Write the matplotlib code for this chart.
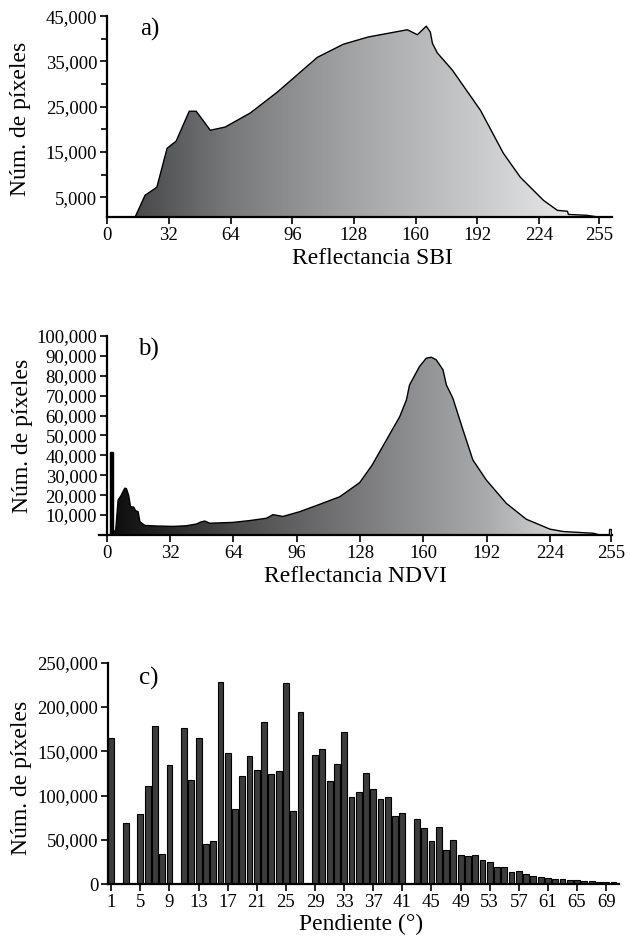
import numpy as np
import matplotlib
matplotlib.use("Agg")
import matplotlib.pyplot as plt
from matplotlib.colors import LinearSegmentedColormap

# a) SBI histogram (read off the picture)
sbi_x = [14.5, 19.7, 25.8, 31.1, 35.8, 42.6, 46.2, 53.5, 61.2, 74.2, 88.2, 109.0,
         122.5, 135.4, 155.7, 160.9, 165.5, 167.6, 168.7, 171.2, 179.0, 193.6,
         205.5, 214.3, 226.3, 233.5, 238.7, 239.2, 249.0, 254.8]
sbi_y = [600, 5440, 7210, 15800, 17400, 24000, 24000, 19800, 20500, 23600, 28200,
         35900, 38800, 40400, 42000, 40900, 42800, 41500, 39000, 36900, 33100, 24200,
         14700, 9400, 4300, 2100, 1900, 1200, 1000, 600]

# b) NDVI histogram
ndvi_x = [3.5, 4.5, 5.7, 7.0, 8.6, 9.1, 9.9, 11.0, 12.0, 13.6, 14.5, 15.8, 16.7,
          19.2, 25.0, 33.3, 40.0, 45.3, 47.5, 49.5, 52.0, 63.6, 72.0, 80.7, 84.0,
          89.0, 97.5, 107.6, 117.7, 127.8, 134.0, 139.4, 148.0, 151.4, 153.0, 158.0,
          161.4, 164.0, 166.5, 169.9, 171.6, 174.9, 180.0, 185.0, 191.8, 201.9,
          212.0, 224.0, 230.8, 246.0, 249.0]
ndvi_y = [1500, 2500, 17600, 19500, 22600, 23500, 23300, 20000, 14200, 14000, 12200,
          11700, 6700, 4800, 4500, 4300, 4600, 5500, 6500, 7000, 5900, 6300, 7200,
          8400, 10200, 9300, 11700, 15400, 19200, 26300, 35000, 44400, 59400, 67800,
          75400, 84600, 88800, 89300, 88000, 83000, 75400, 68700, 52800, 37700, 27600,
          15900, 7900, 2900, 1700, 850, 0]
ndvi_spike_x = [2.2, 254.2]
ndvi_spike_y = [41900, 2900]

# c) slope histogram
slope = list(range(1, 71))
slope_px = [165300, 0, 69100, 0, 78900, 110900, 178500, 33800, 134500, 0,
            175900, 117200, 164600, 45500, 48900, 227700, 147700, 84600, 122100, 145000,
            129300, 182600, 124800, 127800, 226600, 83100, 194300, 0, 145800, 152600,
            116100, 135700, 171700, 98100, 104100, 125500, 107500, 96600, 98100, 77000,
            80400, 0, 74000, 63900, 48900, 64600, 38700, 50000, 33400, 32300,
            32700, 27100, 25200, 19500, 19500, 13900, 15000, 11600, 9000, 8300,
            7100, 6400, 5600, 4900, 4900, 3800, 3800, 3000, 3000, 2600]

ref_ticks = [0, 32, 64, 96, 128, 160, 192, 224, 255]
slope_ticks = list(range(1, 70, 4))

plt.rcParams['font.family'] = ['Liberation Serif', 'DejaVu Serif']
TICK_FS = 13.5
LABEL_FS = 17


def style_axes(ax):
    for s in ['top', 'right']:
        ax.spines[s].set_visible(False)
    for s in ['left', 'bottom']:
        ax.spines[s].set_linewidth(1.6)
    ax.tick_params(which='both', direction='out', width=1.2, labelsize=TICK_FS, pad=2)
    ax.tick_params(which='major', length=5)
    ax.tick_params(which='minor', length=4)


def gradient_fill(ax, x, y, base, colors, x0, x1, top):
    cmap = LinearSegmentedColormap.from_list('g', colors)
    xs = np.concatenate([[x[0]], x, [x[-1]]])
    ys = np.concatenate([[base], y, [base]])
    poly = ax.fill(xs, ys, facecolor='none', edgecolor='none')[0]
    grad = np.linspace(0, 1, 256).reshape(1, -1)
    im = ax.imshow(grad, cmap=cmap, extent=[x0, x1, base, top], aspect='auto',
                   origin='lower', zorder=1)
    im.set_clip_path(poly)
    ax.plot(x, y, color='black', lw=1.0, zorder=3)


fig = plt.figure(figsize=(6.3, 9.4), dpi=100)

# ---- a) SBI
ax1 = fig.add_axes([0.170, 0.769, 0.802, 0.2138])
gradient_fill(ax1, sbi_x, sbi_y, 600,
              ['#3a3a3b', '#78797b', '#a2a4a6', '#c8c9cb', '#f0f0f0'], 0, 255, 45000)
ax1.set_xlim(0, 262)
ax1.set_ylim(600, 45000)
ax1.set_xticks(ref_ticks)
ax1.set_yticks(range(5000, 45001, 10000))
ax1.set_yticklabels([f"{v:,}" for v in range(5000, 45001, 10000)])
ax1.set_yticks(range(10000, 45000, 10000), minor=True)
style_axes(ax1)
ax1.set_xlabel('Reflectancia SBI', fontsize=LABEL_FS)
ax1.xaxis.set_label_coords(0.525, -0.155)
ax1.set_ylabel('Núm. de píxeles', fontsize=LABEL_FS)
ax1.yaxis.set_label_coords(-0.150, 0.49)
ax1.text(0.065, 0.99, 'a)', transform=ax1.transAxes, fontsize=18, va='top', ha='left')

# ---- b) NDVI
ax2 = fig.add_axes([0.157, 0.4309, 0.815, 0.2117])
gradient_fill(ax2, ndvi_x, ndvi_y, 0,
              ['#0a0a0a', '#4a4a4b', '#7a7a7c', '#a8aaac', '#f0f0f0'], 0, 255, 100000)
ax2.bar(ndvi_spike_x, ndvi_spike_y, width=[1.6, 1.2], color=['black', 'white'],
        edgecolor='black', linewidth=1.0, zorder=4)
ax2.set_xlim(-4, 255.5)
ax2.set_ylim(0, 100000)
ax2.spines['left'].set_position(('data', 0))
ax2.set_xticks(ref_ticks)
ax2.set_yticks(range(10000, 100001, 10000))
ax2.set_yticklabels([f"{v:,}" for v in range(10000, 100001, 10000)])
style_axes(ax2)
ax2.set_xlabel('Reflectancia NDVI', fontsize=LABEL_FS)
ax2.xaxis.set_label_coords(0.5, -0.155)
ax2.set_ylabel('Núm. de píxeles', fontsize=LABEL_FS)
ax2.yaxis.set_label_coords(-0.128, 0.5)
ax2.text(0.076, 0.99, 'b)', transform=ax2.transAxes, fontsize=18, va='top', ha='left')

# ---- c) Pendiente
ax3 = fig.add_axes([0.1714, 0.0593, 0.811, 0.2357])
ax3.bar(slope, slope_px, width=0.8, color='#3c3c3c', edgecolor='black', linewidth=0.8)
ax3.set_xlim(0.55, 70.75)
ax3.set_ylim(0, 250000)
ax3.set_xticks(slope_ticks)
ax3.set_yticks(range(0, 250001, 50000))
ax3.set_yticklabels([f"{v:,}" for v in range(0, 250001, 50000)])
style_axes(ax3)
ax3.set_xlabel('Pendiente (°)', fontsize=LABEL_FS)
ax3.xaxis.set_label_coords(0.495, -0.135)
ax3.set_ylabel('Núm. de píxeles', fontsize=LABEL_FS)
ax3.yaxis.set_label_coords(-0.149, 0.48)
ax3.text(0.06, 0.98, 'c)', transform=ax3.transAxes, fontsize=18, va='top', ha='left')

fig.savefig('out.png', dpi=100)
